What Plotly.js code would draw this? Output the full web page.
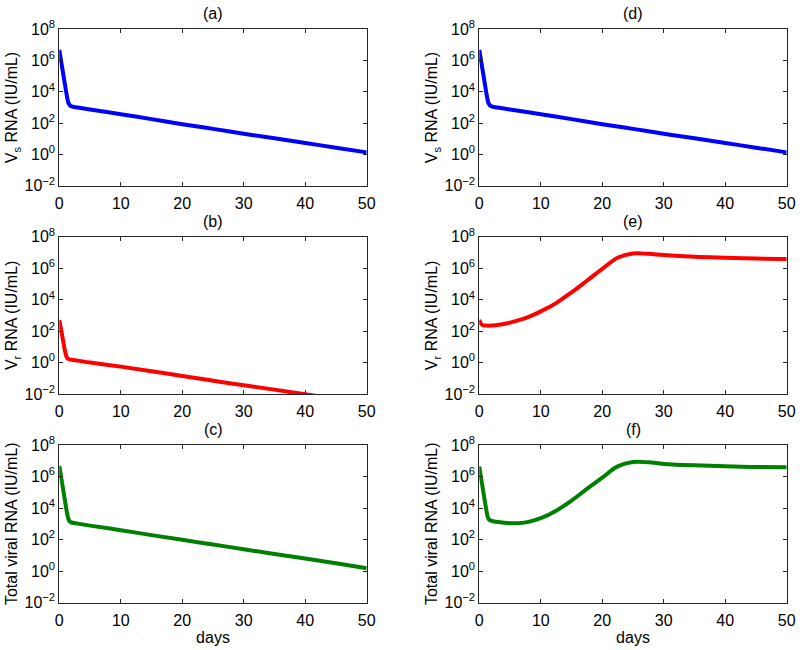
<!DOCTYPE html>
<html>
<head>
<meta charset="utf-8">
<script src="https://cdn.plot.ly/plotly-3.0.1.min.js"></script>
<style>html,body{margin:0;padding:0;background:#fff;}#chart{width:800px;height:650px;}</style>
</head>
<body>
<div id="chart"></div>
<script>
// ---- data (days, IU/mL) ----
// Panel (a): sensitive virus, scenario 1
const tA = [0, 0.25, 0.5, 0.75, 1, 1.25, 1.5, 1.75, 2, 3, 5, 10, 15, 20, 25, 30, 35, 40, 45, 50];
const vsA = [4.8e6, 1.2e6, 3.0e5, 7.6e4, 1.9e4, 5.0e3, 1.9e3, 1.35e3, 1.17e3, 1.0e3, 7.4e2, 3.7e2, 1.8e2, 85, 43, 21, 10.7, 5.4, 2.7, 1.35];
// Panel (b): resistant virus, scenario 1
const tB = [0, 0.25, 0.5, 0.75, 1, 1.25, 1.5, 2, 3, 5, 10, 15, 20, 25, 30, 35, 40, 45, 50];
const vrB = [500, 160, 45, 12.6, 4.0, 2.0, 1.66, 1.5, 1.32, 1.0, 0.55, 0.28, 0.14, 0.07, 0.036, 0.019, 0.0095, 0.005, 0.0027];
// Panel (c): total viral RNA, scenario 1
const tC = [0, 0.25, 0.5, 0.75, 1, 1.25, 1.5, 1.75, 2, 3, 5, 10, 15, 20, 25, 30, 35, 40, 45, 50];
const totC = [4.7e6, 1.2e6, 3.0e5, 7.6e4, 1.9e4, 5.0e3, 1.9e3, 1.35e3, 1.2e3, 1.02e3, 7.6e2, 3.9e2, 1.9e2, 95, 48, 24, 12, 6.2, 3.1, 1.5];
// Panel (d): sensitive virus, scenario 2
const tD = [0, 0.25, 0.5, 0.75, 1, 1.25, 1.5, 1.75, 2, 3, 5, 10, 15, 20, 25, 30, 35, 40, 45, 50];
const vsD = [4.8e6, 1.2e6, 3.0e5, 7.6e4, 1.9e4, 5.0e3, 1.9e3, 1.35e3, 1.17e3, 1.0e3, 7.4e2, 3.7e2, 1.8e2, 85, 43, 21, 10.7, 5.4, 2.7, 1.35];
// Panel (e): resistant virus, scenario 2
const tE = [0, 0.3, 0.6, 1, 2, 3.5, 5, 7.5, 10, 12.5, 15, 17.5, 20, 22.5, 25, 27.5, 30, 35, 40, 45, 50];
const vrE = [525, 282, 234, 224, 224, 263, 347, 661, 1780, 6030, 2.88e4, 1.58e5, 8.9e5, 4.57e6, 8.5e6, 8.1e6, 6.76e6, 5.25e6, 4.57e6, 4.07e6, 3.89e6];
// Panel (f): total viral RNA, scenario 2
const tF = [0, 0.25, 0.5, 0.75, 1, 1.25, 1.5, 2, 4, 6, 8, 10, 12.5, 15, 17.5, 20, 22.5, 25, 27.5, 30, 35, 40, 45, 50];
const totF = [4.27e6, 1.0e6, 2.5e5, 6.3e4, 1.58e4, 4.5e3, 2.0e3, 1.51e3, 1.17e3, 1.07e3, 1.32e3, 2.24e3, 6.8e3, 2.95e4, 1.62e5, 8.5e5, 4.37e6, 8.3e6, 7.9e6, 6.3e6, 5.1e6, 4.5e6, 4.0e6, 3.9e6];

const panelTitles = ['(a)', '(b)', '(c)', '(d)', '(e)', '(f)'];
const yTitles = ['V<sub>s</sub> RNA (IU/mL)', 'V<sub>r</sub> RNA (IU/mL)', 'Total viral RNA (IU/mL)'];
const xTitle = 'days';
const xTickVals = [0, 10, 20, 30, 40, 50];
const yTickVals = [1e-2, 1e0, 1e2, 1e4, 1e6, 1e8];
const yTickText = ['10<sup>−2</sup>', '10<sup>0</sup>', '10<sup>2</sup>', '10<sup>4</sup>', '10<sup>6</sup>', '10<sup>8</sup>'];

// ---- layout geometry ----
const W = 800, H = 650;
const colX = [[59.3, 366.7], [479.3, 786.7]];
const rowY = [[29.3, 185.7], [236.7, 394], [445, 602.5]];
const FONT = 'Liberation Sans, Arial, Helvetica, sans-serif';
const AX = '#262626';

const series = [
  {x: tA, y: vsA, c: '#0000ff'},
  {x: tB, y: vrB, c: '#ff0000'},
  {x: tC, y: totC, c: '#008000'},
  {x: tD, y: vsD, c: '#0000ff'},
  {x: tE, y: vrE, c: '#ff0000'},
  {x: tF, y: totF, c: '#008000'}
];

const data = [];
const layout = {
  width: W, height: H,
  margin: {l: 0, r: 0, t: 0, b: 0},
  paper_bgcolor: '#fff', plot_bgcolor: '#fff',
  showlegend: false,
  font: {family: FONT, size: 16, color: '#000'},
  annotations: []
};

series.forEach((s, i) => {
  const col = Math.floor(i / 3), row = i % 3;
  const n = i + 1;
  const xa = 'xaxis' + (n === 1 ? '' : n), ya = 'yaxis' + (n === 1 ? '' : n);
  const xr = 'x' + (n === 1 ? '' : n), yr = 'y' + (n === 1 ? '' : n);
  data.push({
    type: 'scatter', mode: 'lines', x: s.x, y: s.y, xaxis: xr, yaxis: yr,
    line: {color: s.c, width: 4, shape: 'spline', smoothing: 1},
    hoverinfo: 'skip'
  });
  const xd = [colX[col][0] / W, colX[col][1] / W];
  const yd = [1 - rowY[row][1] / H, 1 - rowY[row][0] / H];
  const xaxis = {
    domain: xd, anchor: yr, range: [0, 50],
    tickvals: xTickVals, ticktext: xTickVals.map(String),
    ticks: 'inside', ticklen: 4, tickcolor: AX, tickwidth: 1,
    ticklabelstandoff: 3,
    showline: true, linecolor: AX, linewidth: 1, mirror: 'ticks',
    showgrid: false, zeroline: false,
    tickfont: {family: FONT, size: 16, color: '#000'}
  };
  if (row === 2) {
    xaxis.title = {text: xTitle, font: {family: FONT, size: 16, color: '#000'}, standoff: 4};
  }
  layout[xa] = xaxis;
  layout[ya] = {
    domain: yd, anchor: xr, type: 'log', range: [-2, 8],
    tickvals: yTickVals, ticktext: yTickText,
    ticks: 'inside', ticklen: 4, tickcolor: AX, tickwidth: 1,
    showline: true, linecolor: AX, linewidth: 1, mirror: 'ticks',
    showgrid: false, zeroline: false,
    tickfont: {family: FONT, size: 16, color: '#000'},
    title: {text: yTitles[row], font: {family: FONT, size: 16, color: '#000'}, standoff: 2}
  };
  layout.annotations.push({
    text: panelTitles[i], xref: 'paper', yref: 'paper',
    x: (xd[0] + xd[1]) / 2, y: yd[1], xanchor: 'center', yanchor: 'bottom',
    yshift: 5, showarrow: false, font: {family: FONT, size: 16, color: '#000'}
  });
});

Plotly.newPlot('chart', data, layout, {displayModeBar: false, staticPlot: true});
</script>
</body>
</html>
